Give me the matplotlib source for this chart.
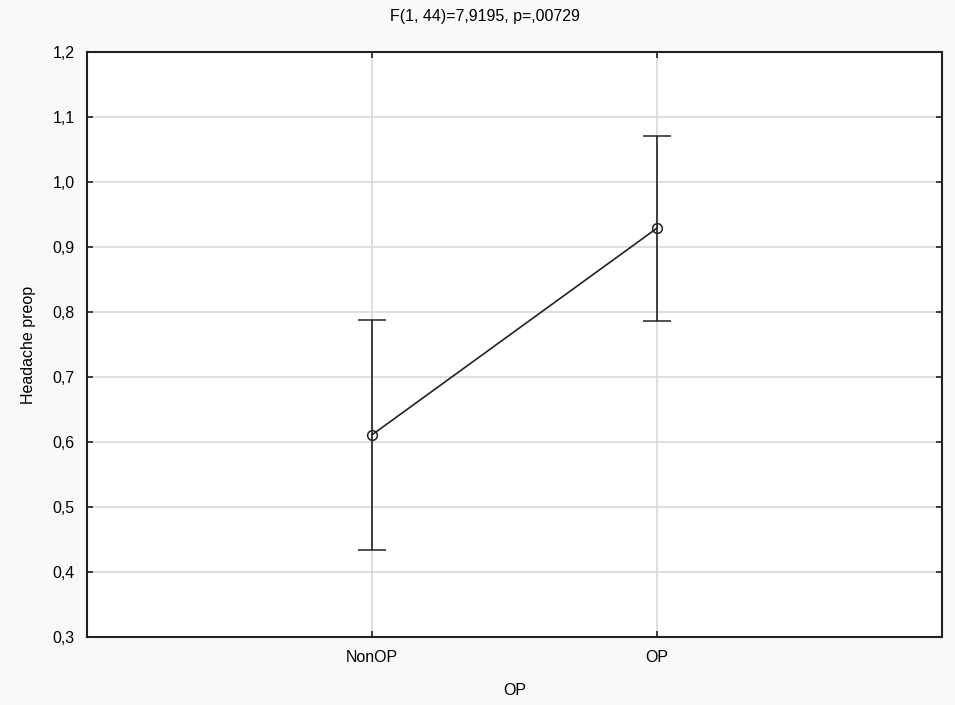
import numpy as np
import matplotlib.pyplot as plt
from matplotlib.ticker import FuncFormatter

plt.rcParams['font.family'] = ['Liberation Sans', 'DejaVu Sans']

groups = ['NonOP', 'OP']
means = [0.611, 0.929]
lower = [0.434, 0.786]
upper = [0.788, 1.071]
title = 'F(1, 44)=7,9195, p=,00729'

x = np.arange(len(groups))
m = np.array(means)
err = [m - np.array(lower), np.array(upper) - m]

fig = plt.figure(figsize=(9.55, 7.05), dpi=100, facecolor='#f9f9f9')
ax = fig.add_axes([87 / 955, 1 - 637 / 705, 855 / 955, 585 / 705])
ax.set_facecolor('white')

ax.errorbar(x, m, yerr=err, color='#222222', lw=1.2, capsize=10, capthick=1.2,
            marker='o', markersize=7, markerfacecolor='none', markeredgewidth=1.1, zorder=3)

ax.set_xlim(-1, 2)
ax.set_ylim(0.3, 1.2)
ax.set_xticks(x)
ax.set_xticklabels(groups)
ax.set_yticks(np.arange(0.3, 1.21, 0.1))
ax.yaxis.set_major_formatter(FuncFormatter(lambda v, p: f'{v:.1f}'.replace('.', ',')))
ax.grid(True, color='#d9d9d9', lw=1.2, zorder=0)
ax.set_axisbelow(True)
ax.tick_params(direction='in', length=4, width=1.2, color='#222222', labelsize=11.5,
               top=True, right=True, labeltop=False, labelright=False, pad=9)
for s in ax.spines.values():
    s.set_linewidth(1.5)
    s.set_color('#222222')

ax.set_xlabel('OP', fontsize=11.5, labelpad=13)
ax.set_ylabel('Headache preop', fontsize=11.5, labelpad=12)
fig.text(485 / 955, 1 - 17 / 705, title, fontsize=11.5, ha='center', va='center')

fig.savefig('out.png', dpi=100, facecolor=fig.get_facecolor())
